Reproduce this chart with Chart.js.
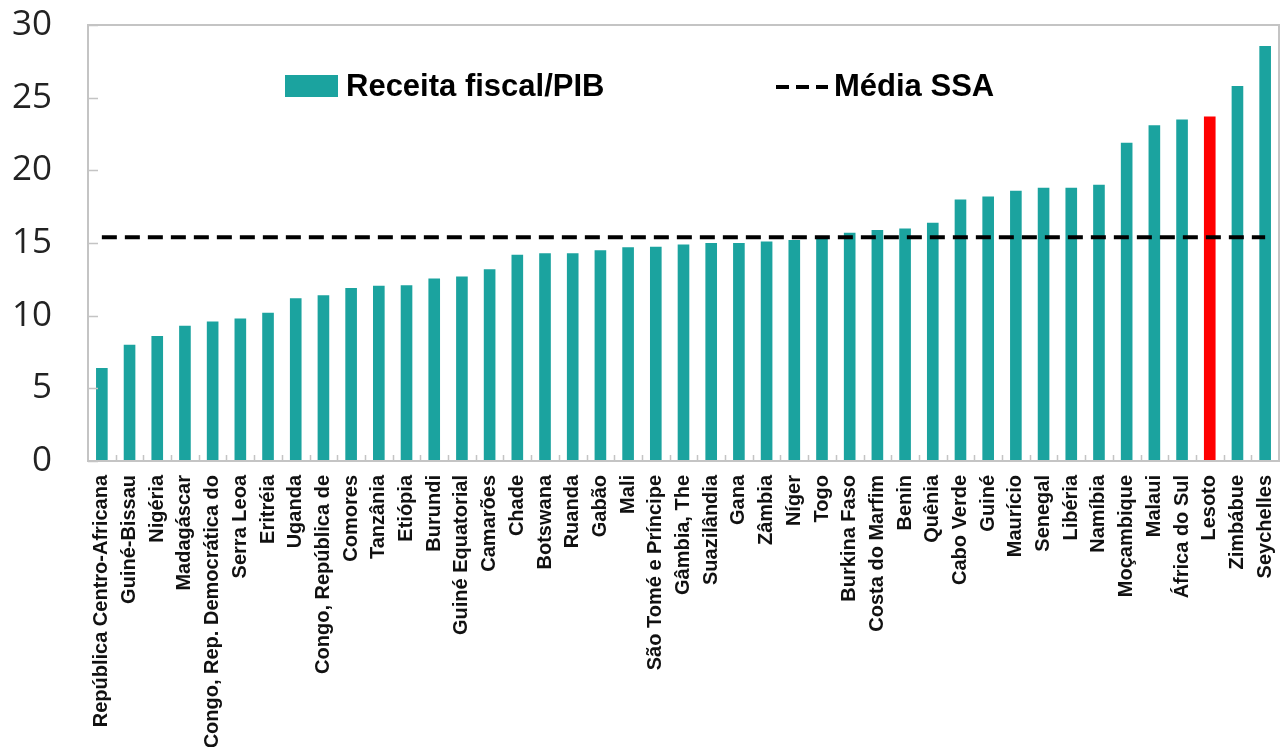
<!DOCTYPE html>
<html>
<head>
<meta charset="utf-8">
<script src="https://cdn.jsdelivr.net/npm/chart.js@4"></script>
<style>
  html, body { margin: 0; padding: 0; background: #fff; }
  #wrap { width: 1281px; height: 747px; position: relative; }
</style>
</head>
<body>
<div id="wrap"><canvas id="receitaChart"></canvas></div>
<script>
const countries = [
  'República Centro-Africana', 'Guiné-Bissau', 'Nigéria', 'Madagáscar',
  'Congo, Rep. Democrática do', 'Serra Leoa', 'Eritréia', 'Uganda',
  'Congo, República de', 'Comores', 'Tanzânia', 'Etiópia', 'Burundi',
  'Guiné Equatorial', 'Camarões', 'Chade', 'Botswana', 'Ruanda', 'Gabão',
  'Mali', 'São Tomé e Príncipe', 'Gâmbia, The', 'Suazilândia', 'Gana',
  'Zâmbia', 'Níger', 'Togo', 'Burkina Faso', 'Costa do Marfim', 'Benin',
  'Quênia', 'Cabo Verde', 'Guiné', 'Maurício', 'Senegal', 'Libéria',
  'Namíbia', 'Moçambique', 'Malaui', 'África do Sul', 'Lesoto',
  'Zimbábue', 'Seychelles'
];

const receitaPIB = [
  6.4, 8.0, 8.6, 9.3, 9.6, 9.8, 10.2, 11.2, 11.4, 11.9, 12.05, 12.1, 12.55,
  12.7, 13.2, 14.2, 14.3, 14.3, 14.5, 14.7, 14.75, 14.9, 15.0, 15.0,
  15.1, 15.2, 15.3, 15.7, 15.9, 16.0, 16.4, 18.0, 18.2, 18.6, 18.8, 18.8,
  19.0, 21.9, 23.1, 23.5, 23.7, 25.8, 28.55
];

const mediaSSA = 15.4;
const highlight = 'Lesoto';
const yTicks = [0, 5, 10, 15, 20, 25, 30];

const teal = '#1ba39f';
const red = '#ff0000';
const frameColor = '#c4c4c4';

// frame round the plot, inward ticks, and the legend sitting inside the plot
const framePlugin = {
  id: 'framePlugin',
  afterDraw(chart) {
    const { ctx, chartArea: a, scales } = chart;
    ctx.save();
    ctx.strokeStyle = frameColor;
    ctx.lineWidth = 2;
    ctx.strokeRect(a.left, a.top, a.right - a.left, a.bottom - a.top);

    ctx.lineWidth = 1.5;
    ctx.beginPath();
    yTicks.forEach(v => {
      const y = Math.round(scales.y.getPixelForValue(v)) + 0.5;
      ctx.moveTo(a.left, y);
      ctx.lineTo(a.left + 10, y);
    });
    const step = (a.right - a.left) / countries.length;
    for (let i = 1; i < countries.length; i++) {
      const x = Math.round(a.left + i * step) + 0.5;
      ctx.moveTo(x, a.bottom);
      ctx.lineTo(x, a.bottom - 6);
    }
    ctx.stroke();

    // legend
    const ly = a.top + 62;
    ctx.font = 'bold 31px "Liberation Sans", Arial, sans-serif';
    ctx.textBaseline = 'middle';
    ctx.fillStyle = teal;
    ctx.fillRect(a.left + 197, ly - 12, 53, 22);
    ctx.fillStyle = '#000';
    ctx.fillText(chart.data.datasets[0].label, a.left + 258, ly);

    ctx.strokeStyle = '#000';
    ctx.lineWidth = 4;
    ctx.setLineDash([13, 7]);
    ctx.beginPath();
    ctx.moveTo(a.left + 688, ly);
    ctx.lineTo(a.left + 740, ly);
    ctx.stroke();
    ctx.setLineDash([]);
    ctx.fillText(chart.data.datasets[1].label, a.left + 746, ly);
    ctx.restore();
  }
};

new Chart(document.getElementById('receitaChart'), {
  type: 'bar',
  data: {
    labels: countries,
    datasets: [
      {
        label: 'Receita fiscal/PIB',
        data: receitaPIB,
        backgroundColor: countries.map(c => c === highlight ? red : teal),
        categoryPercentage: 1,
        barPercentage: 0.42,
        order: 2
      },
      {
        type: 'line',
        label: 'Média SSA',
        data: countries.map(() => mediaSSA),
        borderColor: '#000',
        borderWidth: 4,
        borderDash: [15, 8],
        pointRadius: 0,
        fill: false,
        order: 1
      }
    ]
  },
  plugins: [framePlugin],
  options: {
    responsive: true,
    maintainAspectRatio: false,
    animation: false,
    layout: { padding: { top: 25, right: 2, left: 0, bottom: 0 } },
    plugins: {
      legend: { display: false },
      tooltip: { enabled: false }
    },
    scales: {
      x: {
        grid: { display: false },
        border: { display: false },
        ticks: {
          autoSkip: false,
          minRotation: 90,
          maxRotation: 90,
          padding: 6,
          color: '#111',
          font: { family: '"Liberation Sans", Arial, sans-serif', size: 20, weight: 'bold' }
        },
        afterFit(s) {
          s.height = 286;
          s.paddingLeft = 0;
          s.paddingRight = 0;
        }
      },
      y: {
        min: 0,
        max: 30,
        grid: { display: false },
        border: { display: false },
        ticks: {
          stepSize: 5,
          padding: 28,
          color: '#222',
          font: { family: '"Open Sans", sans-serif', size: 35 }
        },
        afterFit(s) {
          s.width = 88;
          s.paddingTop = 0;
          s.paddingBottom = 0;
        }
      }
    }
  }
});
</script>
</body>
</html>
